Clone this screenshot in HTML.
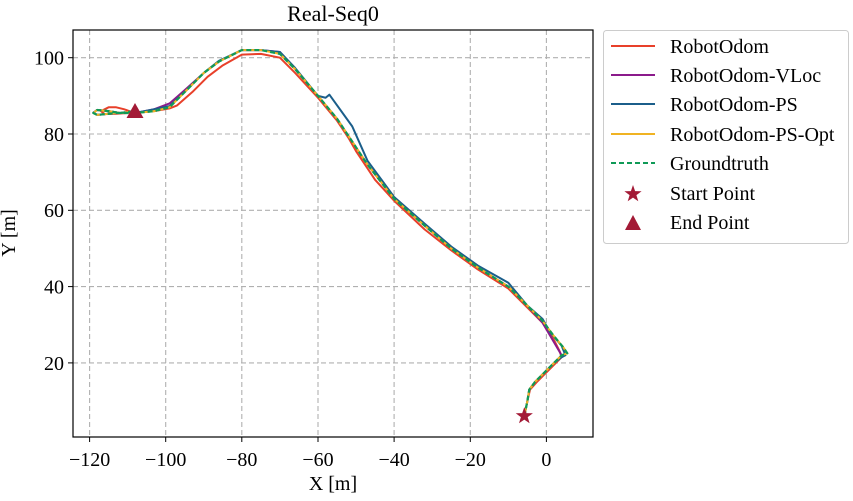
<!DOCTYPE html>
<html><head><meta charset="utf-8"><style>
body{margin:0;background:#fff;}
svg text{font-family:"Liberation Serif",serif;fill:#000;}
</style></head><body>
<svg width="853" height="496" xmlns="http://www.w3.org/2000/svg">
<defs>
<polygon id="st" points="0,-9 2.1,-2.9 8.6,-2.8 3.4,1.1 5.3,7.3 0,3.6 -5.3,7.3 -3.4,1.1 -8.6,-2.8 -2.1,-2.9" fill="#a31a36"/>
</defs>
<rect width="853" height="496" fill="#fff"/>
<text x="333" y="21" font-size="22" text-anchor="middle">Real-Seq0</text>
<g stroke="#b0b0b0" stroke-width="1.1" stroke-dasharray="5,3">
<line x1="89.6" y1="30" x2="89.6" y2="437"/><line x1="165.7" y1="30" x2="165.7" y2="437"/>
<line x1="241.8" y1="30" x2="241.8" y2="437"/><line x1="318" y1="30" x2="318" y2="437"/>
<line x1="394.1" y1="30" x2="394.1" y2="437"/><line x1="470.3" y1="30" x2="470.3" y2="437"/>
<line x1="546.4" y1="30" x2="546.4" y2="437"/>
<line x1="73" y1="57.7" x2="593" y2="57.7"/><line x1="73" y1="134" x2="593" y2="134"/>
<line x1="73" y1="210.3" x2="593" y2="210.3"/><line x1="73" y1="286.6" x2="593" y2="286.6"/>
<line x1="73" y1="362.9" x2="593" y2="362.9"/>
</g>
<g transform="matrix(3.807,0,0,-3.815,546.4,439.2)" fill="none" stroke-width="2" stroke-linejoin="round">
<polyline vector-effect="non-scaling-stroke" stroke="#e8402a" points="-5.8,6 -5,10 -4.3,13 -2.5,15 -0.5,17 2,19.5 4,21.5 3.5,23 2,26 -1,30.5 -5,34.5 -10,39.5 -18,44.5 -25,49.5 -32,55 -40,62.5 -45,68 -47,71 -50,75.5 -52,79 -55,83.5 -60,89.5 -66,96 -70,100 -75,101 -80,100.8 -85,98 -89,95 -93,91 -97,87.5 -99,86.7 -103,86 -108,85.5 -111,86.5 -113,87 -115,87 -117,86 -116,85.2 -113,85.3 -110,85.5"/>
<polyline vector-effect="non-scaling-stroke" stroke="#8b1a8b" points="-5.8,6 -5,10 -4.5,13 -3,15 -1,17 2,20 4,22 -1,30.5 -5,35 -10,40 -18,45 -25,50 -32,56 -40,63 -47,72 -51,78 -55,84 -60,90 -66,97 -70,101.5 -75,102 -80,102 -86,99 -90,96 -95,91.5 -99,88 -103,86.5 -108,85.5 -113,85.5 -118,85 -119,85.6 -118,86.3 -115,86 -112,85.5 -108,86"/>
<polyline vector-effect="non-scaling-stroke" stroke="#1b5e8a" points="-5.8,6 -5,10 -4.5,13 -3,15 -1,17 2,20 4,21.5 5,22 4,24.5 1,28 -1,31.5 -5,35 -10,41 -18,45.5 -25,50.5 -32,56.5 -40,63.5 -47,73 -51,82 -57,90.3 -58,89.5 -60,90 -66,97.3 -70,101.5 -75,102 -80,102 -86,99.2 -90,96 -95,91 -99,87.3 -103,86.5 -108,85.5 -113,85.5 -118,85 -119,85.6 -118,86.3 -115,86 -112,85.5 -108,86"/>
<polyline vector-effect="non-scaling-stroke" stroke="#f0b323" points="-5.8,6 -5,10 -4.5,13 -3,15 -1,17 2,20 4,22 5.5,22.5 4.5,24 2,27 -1,31 -5,35 -10,40 -18,45 -25,50 -32,56 -40,63 -47,72 -51,78 -55,84 -60,90 -66,97 -70,101 -75,102 -80,102 -86,99 -90,96 -95,91 -99,87 -103,86 -108,85.5 -113,85.5 -118,85 -119,85.5 -118,86.3 -115,86 -112,85.5 -108,86"/>
<polyline vector-effect="non-scaling-stroke" stroke="#0f9a57" stroke-width="2.2" stroke-dasharray="5,3" points="-5.8,6 -5,10 -4.5,13 -3,15 -1,17 2,20 4,22 5.5,22.5 4.5,24 2,27 -1,31 -5,35 -10,40 -18,45 -25,50 -32,56 -40,63 -47,72 -51,78 -55,84 -60,90 -66,97 -70,101 -75,102 -80,102 -86,99 -90,96 -95,91 -99,87 -103,86 -108,85.5 -113,85.5 -118,85 -119,85.5 -118,86.3 -115,86 -112,85.5 -108,86"/>
</g>
<use href="#st" x="524.3" y="416"/>
<polygon points="135,103 126.5,118 143.5,118" fill="#a31a36"/>
<rect x="73" y="30" width="520" height="407" fill="none" stroke="#000" stroke-width="1.2"/>
<g stroke="#000" stroke-width="1">
<line x1="89.6" y1="437" x2="89.6" y2="442"/><line x1="165.7" y1="437" x2="165.7" y2="442"/>
<line x1="241.8" y1="437" x2="241.8" y2="442"/><line x1="318" y1="437" x2="318" y2="442"/>
<line x1="394.1" y1="437" x2="394.1" y2="442"/><line x1="470.3" y1="437" x2="470.3" y2="442"/>
<line x1="546.4" y1="437" x2="546.4" y2="442"/>
<line x1="68" y1="57.7" x2="73" y2="57.7"/><line x1="68" y1="134" x2="73" y2="134"/>
<line x1="68" y1="210.3" x2="73" y2="210.3"/><line x1="68" y1="286.6" x2="73" y2="286.6"/>
<line x1="68" y1="362.9" x2="73" y2="362.9"/>
</g>
<g font-size="20" text-anchor="middle">
<text x="89.6" y="466">−120</text><text x="165.7" y="466">−100</text><text x="241.8" y="466">−80</text>
<text x="318" y="466">−60</text><text x="394.1" y="466">−40</text><text x="470.3" y="466">−20</text>
<text x="546.4" y="466">0</text>
</g>
<g font-size="20" text-anchor="end">
<text x="64" y="64.5">100</text><text x="64" y="141">80</text><text x="64" y="217">60</text>
<text x="64" y="293.5">40</text><text x="64" y="370">20</text>
</g>
<text x="333" y="490" font-size="20" text-anchor="middle">X [m]</text>
<text transform="translate(15,233) rotate(-90)" font-size="20" text-anchor="middle">Y [m]</text>
<rect x="603.5" y="30.5" width="245" height="213" rx="3" fill="#fff" stroke="#ccc"/>
<g stroke-width="2">
<line x1="611" y1="46" x2="655" y2="46" stroke="#e8402a"/>
<line x1="611" y1="75" x2="655" y2="75" stroke="#8b1a8b"/>
<line x1="611" y1="104" x2="655" y2="104" stroke="#1b5e8a"/>
<line x1="611" y1="134" x2="655" y2="134" stroke="#f0b323"/>
<line x1="611" y1="163" x2="655" y2="163" stroke="#0f9a57" stroke-dasharray="5,3"/>
</g>
<use href="#st" x="633" y="194"/>
<polygon points="633,215 625,230 641,230" fill="#a31a36"/>
<g font-size="20">
<text x="670" y="53">RobotOdom</text><text x="670" y="82">RobotOdom-VLoc</text>
<text x="670" y="111">RobotOdom-PS</text><text x="670" y="141">RobotOdom-PS-Opt</text>
<text x="670" y="170">Groundtruth</text><text x="670" y="200">Start Point</text>
<text x="670" y="229">End Point</text>
</g>
</svg>
</body></html>
